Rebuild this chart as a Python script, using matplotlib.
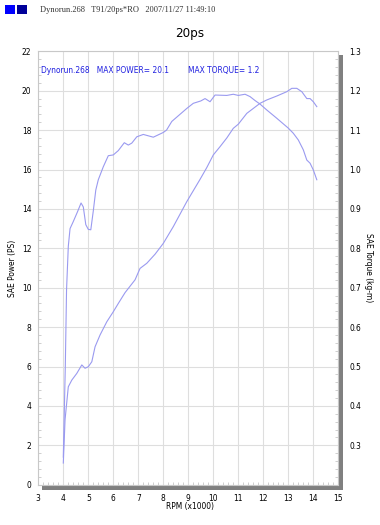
import matplotlib
matplotlib.use('Agg')
import matplotlib.pyplot as plt
from matplotlib.patches import Rectangle
from matplotlib.ticker import MultipleLocator

plt.rcParams['font.family'] = ['DejaVu Sans']
plt.rcParams['font.stretch'] = 'condensed'

# power curve (PS), rpm x1000
power_rpm = [4.00, 4.07, 4.20, 4.34, 4.54, 4.74, 4.87, 5.00, 5.14, 5.27, 5.47, 5.74,
             6.00, 6.20, 6.47, 6.87, 7.07, 7.34, 7.67, 8.00, 8.40, 8.94, 9.47, 9.74,
             10.00, 10.27, 10.54, 10.80, 11.00, 11.34, 11.60, 11.87, 12.14, 12.54,
             12.94, 13.14, 13.34, 13.54, 13.74, 13.87, 14.00, 14.14]
power_ps = [1.1, 3.3, 4.97, 5.31, 5.65, 6.08, 5.91, 5.99, 6.24, 7.0, 7.6, 8.27,
            8.78, 9.2, 9.75, 10.4, 10.98, 11.24, 11.7, 12.25, 13.1, 14.37, 15.5, 16.1,
            16.74, 17.16, 17.6, 18.09, 18.3, 18.85, 19.1, 19.36, 19.53, 19.73,
            19.95, 20.12, 20.12, 19.95, 19.6, 19.6, 19.44, 19.19]

# torque curve (kg-m)
torque_rpm = [4.00, 4.08, 4.13, 4.20, 4.27, 4.40, 4.57, 4.71, 4.80, 4.90, 5.00, 5.10,
              5.20, 5.30, 5.40, 5.60, 5.80, 6.00, 6.20, 6.44, 6.60, 6.74, 6.94, 7.20,
              7.60, 8.00, 8.13, 8.34, 8.94, 9.20, 9.50, 9.67, 9.87, 10.07, 10.54,
              10.80, 11.00, 11.27, 11.47, 11.67, 11.87, 12.14, 12.54, 13.00, 13.20,
              13.40, 13.60, 13.74, 13.87, 14.00, 14.14]
torque_kgm = [0.270, 0.500, 0.695, 0.805, 0.850, 0.868, 0.893, 0.915, 0.905, 0.860,
              0.848, 0.847, 0.895, 0.948, 0.974, 1.007, 1.035, 1.037, 1.048, 1.068,
              1.062, 1.067, 1.083, 1.089, 1.082, 1.094, 1.100, 1.122, 1.155, 1.168,
              1.174, 1.180, 1.172, 1.189, 1.188, 1.191, 1.188, 1.191, 1.185, 1.175,
              1.166, 1.151, 1.130, 1.105, 1.092, 1.075, 1.050, 1.024, 1.016, 0.999,
              0.974]

W, H = 380, 525
fig = plt.figure(figsize=(W / 100, H / 100), dpi=100)

# axes box in pixels
x0, x1, y0, y1 = 38.3, 338.3, 51.3, 484.7
ax = fig.add_axes([x0 / W, 1 - y1 / H, (x1 - x0) / W, (y1 - y0) / H])

# drop shadow behind the plot area
fig.patches.append(Rectangle(((x0 + 4) / W, 1 - (y1 + 5) / H), (x1 - x0 + 1) / W,
                             (y1 - y0 + 1) / H, transform=fig.transFigure,
                             facecolor='#808080', edgecolor='none', zorder=0))
ax.set_zorder(1)
ax.set_facecolor('white')

line_c = '#9a9af0'
ax.plot(power_rpm, power_ps, color=line_c, lw=0.8, zorder=3)

ax.set_xlim(3, 15)
ax.set_ylim(0, 22)
ax.xaxis.set_major_locator(MultipleLocator(1))
ax.xaxis.set_minor_locator(MultipleLocator(0.2))
ax.yaxis.set_major_locator(MultipleLocator(2))
ax.yaxis.set_minor_locator(MultipleLocator(0.4))
ax.grid(True, which='major', color='#dedede', lw=0.8, zorder=0)
ax.tick_params(which='major', length=0, labelsize=6, pad=5)
ax.tick_params(which='minor', direction='in', length=2.5, color='#c8c8c8')
ax.tick_params(axis='x', pad=7)
for s in ax.spines.values():
    s.set_color('#c8c8c8')
    s.set_linewidth(0.8)

ax2 = ax.twinx()
ax2.plot(torque_rpm, torque_kgm, color=line_c, lw=0.8, zorder=3)
ax2.set_ylim(0.2, 1.3)
ax2.set_yticks([0.3, 0.4, 0.5, 0.6, 0.7, 0.8, 0.9, 1.0, 1.1, 1.2, 1.3])
ax2.yaxis.set_minor_locator(MultipleLocator(0.02))
ax2.tick_params(which='major', length=0, labelsize=6, pad=8)
ax2.tick_params(which='minor', direction='in', length=2.5, color='#c8c8c8')
for s in ax2.spines.values():
    s.set_visible(False)

fig.text(190 / W, 1 - 507 / H, 'RPM (x1000)', fontsize=6, ha='center', va='center')
fig.text(13 / W, 1 - 268 / H, 'SAE Power (PS)', fontsize=6, rotation=90,
         ha='center', va='center')
fig.text(369 / W, 1 - 268 / H, 'SAE Torque (kg-m)', fontsize=6, rotation=-90,
         ha='center', va='center')

ax.text(0.01, 0.955, 'Dynorun.268   MAX POWER= 20.1        MAX TORQUE= 1.2',
        transform=ax.transAxes, fontsize=6, color='#2020e0', va='center')

fig.text(190 / W, 1 - 34 / H, '20ps', fontsize=9.5, ha='center', va='center')
fig.text(40 / W, 1 - 10 / H, 'Dynorun.268   T91/20ps*RO   2007/11/27 11:49:10',
         fontsize=6, family=['Liberation Serif', 'DejaVu Serif'], color='#333333',
         va='center')
fig.patches.append(Rectangle((5 / W, 1 - 14 / H), 10 / W, 9 / H, transform=fig.transFigure,
                             facecolor='#0000ff', edgecolor='none'))
fig.patches.append(Rectangle((17 / W, 1 - 14 / H), 10 / W, 9 / H, transform=fig.transFigure,
                             facecolor='#000099', edgecolor='none'))

fig.savefig('out.png', dpi=100)
